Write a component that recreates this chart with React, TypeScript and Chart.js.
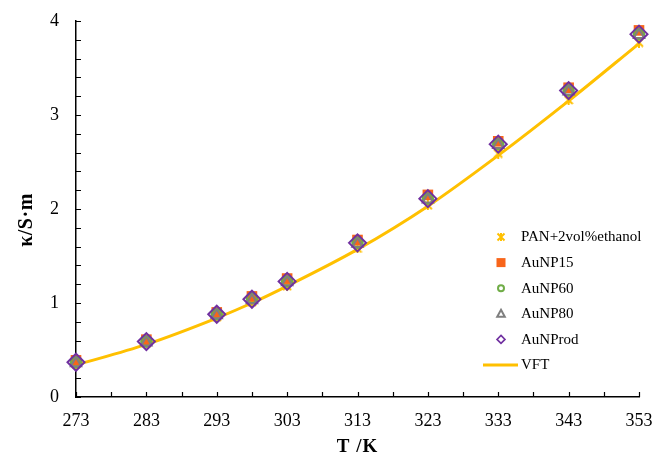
import React, { useEffect, useRef } from 'react';
import { Chart, registerables } from 'chart.js';

Chart.register(...registerables);

const temperatures = [273, 283, 293, 298, 303, 313, 323, 333, 343, 353];
const panEthanol = [0.35, 0.57, 0.85, 1.01, 1.18, 1.58, 2.04, 2.59, 3.16, 3.77];
const auNP15 = [0.39, 0.61, 0.9, 1.07, 1.26, 1.67, 2.15, 2.72, 3.29, 3.9];
const auNP60 = [0.37, 0.59, 0.88, 1.05, 1.23, 1.64, 2.11, 2.69, 3.26, 3.86];
const auNP80 = [0.36, 0.58, 0.87, 1.03, 1.22, 1.63, 2.1, 2.68, 3.25, 3.85];
const auNProd = [0.37, 0.59, 0.88, 1.04, 1.23, 1.64, 2.11, 2.69, 3.26, 3.86];
const vftFit = [0.34, 0.56, 0.84, 1.0, 1.18, 1.57, 2.03, 2.57, 3.15, 3.76];

const seriesNames = ['PAN+2vol%ethanol', 'AuNP15', 'AuNP60', 'AuNP80', 'AuNProd', 'VFT'];
const xTicks = [273, 283, 293, 303, 313, 323, 333, 343, 353];
const yTicks = [0, 1, 2, 3, 4];
const xMinorStep = 5;
const yMinorStep = 0.2;
const xTitle = 'T /K';
const yTitle = 'κ/S·m';

const YELLOW = '#FFC000';
const ORANGE = '#F8651A';
const GREEN = '#70AD47';
const GRAY = '#7F7F7F';
const PURPLE = '#7030A0';
const SERIF = '"Liberation Serif", "Times New Roman", serif';

function makeAsterisk(size: number, color: string, lw: number) {
  const c = document.createElement('canvas');
  c.width = size;
  c.height = size;
  const g = c.getContext('2d')!;
  g.strokeStyle = color;
  g.lineWidth = lw;
  const m = lw / 2;
  const s = size;
  g.beginPath();
  g.moveTo(m, m);
  g.lineTo(s - m, s - m);
  g.moveTo(s - m, m);
  g.lineTo(m, s - m);
  g.moveTo(s / 2, 0);
  g.lineTo(s / 2, s);
  g.stroke();
  return c;
}

function drawLegendMarker(ctx: CanvasRenderingContext2D, kind: string, x: number, y: number) {
  ctx.save();
  ctx.lineWidth = 2;
  if (kind === 'star') {
    ctx.strokeStyle = YELLOW;
    const r = 3.5;
    ctx.beginPath();
    ctx.moveTo(x - r, y - r); ctx.lineTo(x + r, y + r);
    ctx.moveTo(x + r, y - r); ctx.lineTo(x - r, y + r);
    ctx.moveTo(x, y - r - 0.5); ctx.lineTo(x, y + r + 0.5);
    ctx.stroke();
  } else if (kind === 'rect') {
    ctx.fillStyle = ORANGE;
    ctx.fillRect(x - 4.5, y - 4.5, 9, 9);
  } else if (kind === 'circle') {
    ctx.strokeStyle = GREEN;
    ctx.beginPath();
    ctx.arc(x, y, 3, 0, Math.PI * 2);
    ctx.stroke();
  } else if (kind === 'triangle') {
    ctx.strokeStyle = GRAY;
    ctx.beginPath();
    ctx.moveTo(x, y - 4);
    ctx.lineTo(x + 3.8, y + 3);
    ctx.lineTo(x - 3.8, y + 3);
    ctx.closePath();
    ctx.stroke();
  } else if (kind === 'rectRot') {
    ctx.strokeStyle = PURPLE;
    ctx.lineWidth = 1.6;
    ctx.beginPath();
    ctx.moveTo(x, y - 4);
    ctx.lineTo(x + 4, y);
    ctx.lineTo(x, y + 4);
    ctx.lineTo(x - 4, y);
    ctx.closePath();
    ctx.stroke();
  } else if (kind === 'line') {
    ctx.strokeStyle = YELLOW;
    ctx.lineWidth = 3;
    ctx.beginPath();
    ctx.moveTo(x - 18, y);
    ctx.lineTo(x + 17, y);
    ctx.stroke();
  }
  ctx.restore();
}

const legendKinds = ['star', 'rect', 'circle', 'triangle', 'rectRot', 'line'];

const decorPlugin = {
  id: 'decor',
  beforeDatasetsDraw(chart: any) {
    const ctx: CanvasRenderingContext2D = chart.ctx;
    const xs = chart.scales.x;
    const ys = chart.scales.y;
    const area = chart.chartArea;
    ctx.save();
    ctx.strokeStyle = '#000';
    ctx.lineWidth = 1.2;
    ctx.beginPath();
    for (let v = ys.min; v <= ys.max + 1e-9; v += yMinorStep) {
      const py = Math.round(ys.getPixelForValue(v)) + 0.5;
      ctx.moveTo(area.left, py);
      ctx.lineTo(area.left + 5, py);
    }
    for (let v = xs.min; v <= xs.max + 1e-9; v += xMinorStep) {
      const px = Math.round(xs.getPixelForValue(v)) + 0.5;
      ctx.moveTo(px, area.bottom);
      ctx.lineTo(px, area.bottom - 5);
    }
    ctx.stroke();
    ctx.restore();
  },
  afterDraw(chart: any) {
    const ctx: any = chart.ctx;
    const area = chart.chartArea;
    ctx.save();
    ctx.fillStyle = '#000';
    // axis titles
    ctx.font = `bold 19px ${SERIF}`;
    ctx.letterSpacing = '1px';
    ctx.textAlign = 'center';
    ctx.textBaseline = 'alphabetic';
    ctx.fillText(xTitle, (area.left + area.right) / 2, 452);
    ctx.save();
    ctx.translate(27, 220);
    ctx.rotate(-Math.PI / 2);
    ctx.font = `bold 20px ${SERIF}`;
    ctx.letterSpacing = '0.5px';
    ctx.textBaseline = 'middle';
    ctx.fillText(yTitle, 0, 0);
    ctx.restore();
    ctx.letterSpacing = '0px';
    // legend
    ctx.font = `15px ${SERIF}`;
    ctx.textAlign = 'left';
    ctx.textBaseline = 'middle';
    const markerX = 501;
    const textX = 521;
    const y0 = 237;
    const step = 25.6;
    seriesNames.forEach((name, i) => {
      const y = y0 + i * step;
      drawLegendMarker(ctx, legendKinds[i], markerX, y);
      ctx.fillStyle = '#000';
      ctx.fillText(name, textX, y + 0.5);
    });
    ctx.restore();
  },
};

const zeroPad = (s: any) => {
  s.paddingLeft = 0;
  s.paddingRight = 0;
  s.paddingTop = 0;
  s.paddingBottom = 0;
};

export default function App() {
  const ref = useRef<HTMLCanvasElement | null>(null);
  useEffect(() => {
    if (!ref.current) return;
    const asterisk = makeAsterisk(10, YELLOW, 2);
    const pts = (vals: number[]) => temperatures.map((t, i) => ({ x: t, y: vals[i] }));
    const chart = new Chart(ref.current, {
      type: 'scatter',
      data: {
        datasets: [
          {
            label: seriesNames[0],
            data: pts(panEthanol),
            pointStyle: asterisk as any,
            pointRadius: 5,
            showLine: false,
            order: 6,
            clip: false as any,
          },
          {
            label: seriesNames[1],
            data: pts(auNP15),
            pointStyle: 'rect',
            pointRadius: 7.5,
            backgroundColor: ORANGE,
            borderColor: ORANGE,
            borderWidth: 0,
            showLine: false,
            order: 5,
            clip: false as any,
          },
          {
            label: seriesNames[2],
            data: pts(auNP60),
            pointStyle: 'circle',
            pointRadius: 5,
            backgroundColor: 'rgba(0,0,0,0)',
            borderColor: GREEN,
            borderWidth: 2.5,
            showLine: false,
            order: 4,
            clip: false as any,
          },
          {
            label: seriesNames[3],
            data: pts(auNP80),
            pointStyle: 'triangle',
            pointRadius: 6,
            backgroundColor: 'rgba(0,0,0,0)',
            borderColor: GRAY,
            borderWidth: 2,
            showLine: false,
            order: 3,
            clip: false as any,
          },
          {
            label: seriesNames[4],
            data: pts(auNProd),
            pointStyle: 'rectRot',
            pointRadius: 8.5,
            backgroundColor: 'rgba(0,0,0,0)',
            borderColor: PURPLE,
            borderWidth: 2,
            showLine: false,
            order: 2,
            clip: false as any,
          },
          {
            label: seriesNames[5],
            data: pts(vftFit),
            showLine: true,
            pointRadius: 0,
            borderColor: YELLOW,
            borderWidth: 3,
            cubicInterpolationMode: 'monotone',
            order: 7,
            clip: false as any,
          } as any,
        ],
      },
      options: {
        animation: false,
        responsive: false,
        layout: { padding: { top: 21, right: 15, left: 0, bottom: 0 } },
        plugins: { legend: { display: false }, tooltip: { enabled: false } },
        scales: {
          x: {
            type: 'linear',
            min: 273,
            max: 353,
            afterBuildTicks: (s: any) => { s.ticks = xTicks.map((value) => ({ value })); },
            afterFit: (s: any) => { s.height = 56; zeroPad(s); },
            grid: { display: false, drawTicks: false },
            border: { display: true, color: '#000', width: 1.5 },
            ticks: { color: '#000', font: { family: SERIF, size: 18 }, padding: 13, maxRotation: 0, autoSkip: false },
          },
          y: {
            type: 'linear',
            min: 0,
            max: 4,
            afterBuildTicks: (s: any) => { s.ticks = yTicks.map((value) => ({ value })); },
            afterFit: (s: any) => { s.width = 76; zeroPad(s); },
            grid: { display: false, drawTicks: false },
            border: { display: true, color: '#000', width: 1.5 },
            ticks: { color: '#000', font: { family: SERIF, size: 18 }, padding: 17 },
          },
        },
      } as any,
      plugins: [decorPlugin],
    });
    return () => chart.destroy();
  }, []);
  return (
    <div style={{ position: 'fixed', left: 0, top: 0, width: 654, height: 453, background: '#fff' }}>
      <canvas ref={ref} width={654} height={453} />
    </div>
  );
}
